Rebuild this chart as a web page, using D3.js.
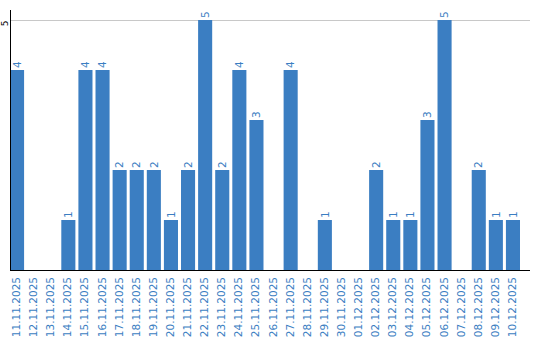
<!DOCTYPE html>
<html>
<head>
<meta charset="utf-8">
<script src="https://cdn.jsdelivr.net/npm/d3@7"></script>
<style>
  body { margin: 0; background: #fff; }
  svg { display: block; }
  text { font-family: "DejaVu Sans", Verdana, sans-serif; }
</style>
</head>
<body>
<svg width="540" height="340"></svg>
<script>
// Daily counts
var days = ['11.11.2025', '12.11.2025', '13.11.2025', '14.11.2025', '15.11.2025',
    '16.11.2025', '17.11.2025', '18.11.2025', '19.11.2025', '20.11.2025',
    '21.11.2025', '22.11.2025', '23.11.2025', '24.11.2025', '25.11.2025',
    '26.11.2025', '27.11.2025', '28.11.2025', '29.11.2025', '30.11.2025',
    '01.12.2025', '02.12.2025', '03.12.2025', '04.12.2025', '05.12.2025',
    '06.12.2025', '07.12.2025', '08.12.2025', '09.12.2025', '10.12.2025'];
var counts = [4, 0, 0, 1, 4, 4, 2, 2, 2, 1,
    2, 5, 2, 4, 3, 0, 4, 0, 1, 0,
    0, 2, 1, 1, 3, 5, 0, 2, 1, 1];
var yTicks = [5];

var blue = '#3b7ec2';
var font = '"DejaVu Sans", Verdana, sans-serif';

var svg = d3.select('svg');
var padding = {t: 10, r: 10, b: 70, l: 10};
var chartWidth = 520;
var chartHeight = 260;

var data = days.map(function(d, i) { return {day: d, count: counts[i]}; });

var x = d3.scaleBand()
    .domain(days)
    .range([0, 510])
    .paddingInner(3 / 17)
    .paddingOuter(0)
    .align(0);

var y = d3.scaleLinear()
    .domain([0, 5.2])
    .range([chartHeight, 0]);

var chartG = svg.append('g')
    .attr('transform', 'translate(' + [padding.l, padding.t] + ')');

// gridline
chartG.selectAll('.grid')
    .data(yTicks)
    .enter().append('line')
    .attr('class', 'grid')
    .attr('x1', 0)
    .attr('x2', chartWidth)
    .attr('y1', d => y(d) + 0.5)
    .attr('y2', d => y(d) + 0.5)
    .attr('stroke', '#c8c8c8');

// bars
chartG.selectAll('.bar')
    .data(data.filter(d => d.count > 0))
    .enter().append('rect')
    .attr('class', 'bar')
    .attr('x', d => x(d.day))
    .attr('y', d => y(d.count))
    .attr('width', x.bandwidth())
    .attr('height', d => chartHeight - y(d.count))
    .attr('fill', blue);

// value labels
chartG.selectAll('.value')
    .data(data.filter(d => d.count > 0))
    .enter().append('text')
    .attr('class', 'value')
    .attr('transform', d => 'translate(' + (x(d.day) + x.bandwidth() / 2) + ',' + (y(d.count) - 2) + ') rotate(-90)')
    .attr('dy', '0.35em')
    .attr('font-family', font)
    .attr('font-size', '10.5px')
    .attr('fill', blue)
    .text(d => d.count);

// y axis
var yAxis = d3.axisLeft(y).tickValues(yTicks).tickFormat(d3.format('d')).tickSize(0).tickPadding(0);
var yAxisG = chartG.append('g').call(yAxis).attr('font-family', font);
yAxisG.select('.domain').attr('stroke', '#000').attr('d', 'M0.5,0V' + chartHeight);
yAxisG.selectAll('.tick text')
    .attr('x', null)
    .attr('dy', null)
    .attr('transform', 'translate(-5,3) rotate(-90)')
    .attr('text-anchor', 'middle')
    .attr('dominant-baseline', 'middle')
    .attr('font-size', '9px')
    .attr('fill', '#000');

// x axis
var xAxis = d3.axisBottom(x).tickSize(0).tickPadding(0);
var xAxisG = chartG.append('g')
    .attr('transform', 'translate(0,' + chartHeight + ')')
    .call(xAxis)
    .attr('font-family', font);
xAxisG.select('.domain').attr('stroke', '#000').attr('d', 'M0,0.5H' + chartWidth);
xAxisG.selectAll('.tick text')
    .attr('y', null)
    .attr('dy', null)
    .attr('transform', 'translate(0,7) rotate(-90)')
    .attr('text-anchor', 'end')
    .attr('dominant-baseline', 'middle')
    .attr('font-size', '10.5px')
    .attr('fill', blue);
</script>
</body>
</html>
